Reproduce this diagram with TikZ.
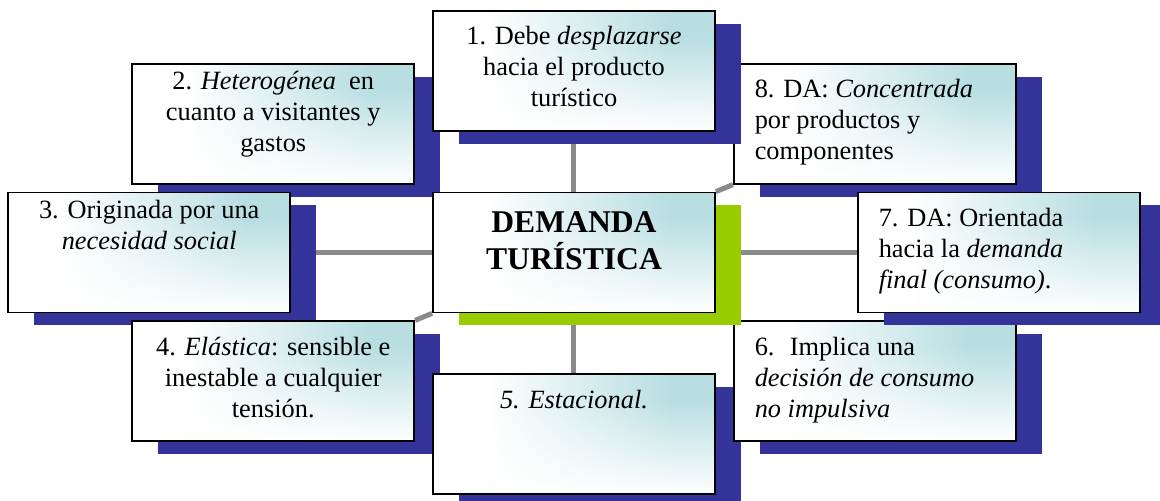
\documentclass[tikz,border=0pt]{standalone}
\usepackage{fontspec}
\setmainfont{Liberation Serif}
\usepackage{tikz}
\usetikzlibrary{positioning, shadows, fadings}
\definecolor{boxteal}{RGB}{184,222,226}
\definecolor{shadowblue}{RGB}{51,51,153}
\definecolor{shadowgreen}{RGB}{153,204,0}
\definecolor{linkgray}{RGB}{138,138,138}
\pgfdeclarelayer{background}
\pgfdeclarelayer{front}
\pgfsetlayers{background,main,front}
\newcommand{\boxtext}[3]{\parbox[c][2.4cm][t]{5.64cm}{#1\rule{0pt}{#2}#3}}

\begin{document}
\begin{tikzpicture}[feature/.style={rectangle,
      draw=black,
      line width=1pt,
      fill=white,
      inner sep=0pt,
      minimum width=5.64cm,
      minimum height=2.4cm,
      font=\fontsize{15}{17.6}\selectfont,
      path picture={
        \fill[boxteal] (path picture bounding box.south west)
          rectangle (path picture bounding box.north east);
        \shade[left color=white, right color=boxteal]
          ([xshift=1.1cm]path picture bounding box.south west)
          rectangle ([xshift=-0.9cm]path picture bounding box.north east);
        \fill[white] (path picture bounding box.south west)
          rectangle ([xshift=1.1cm]path picture bounding box.north west);
        \fill[white, path fading=north] (path picture bounding box.south west)
          rectangle ([yshift=-0.5cm]path picture bounding box.north east);},
      general shadow={fill=#1, shadow xshift=0.52cm, shadow yshift=-0.26cm}},
    feature/.default=shadowblue,
    link/.style={draw=linkgray, line width=0.1cm}]
  \useasboundingbox (-11.48,-4.97) rectangle (11.72,5.05);

  % CENTRE

  \begin{pgfonlayer}{front}
    \node[feature=shadowgreen,
      font=\fontsize{18}{21}\selectfont\bfseries] (demanda) at (0,0) {
      \boxtext{\centering}{0.8cm}{DEMANDA\\TURÍSTICA}
    };
  \end{pgfonlayer}

  % FEATURES

  \node[feature,
    above left=0.14cm and 0.34cm of demanda] (heterogenea) {
    \boxtext{\centering}{0.52cm}{2. \textit{Heterogénea}~ en\\
      cuanto a visitantes y\\ gastos}
  };

  \node[feature,
    left=2.82cm of demanda] (necesidad) {
    \boxtext{\centering}{0.52cm}{3. Originada por una\\
      \textit{necesidad social}}
  };

  \node[feature,
    below left=0.14cm and 0.34cm of demanda] (elastica) {
    \boxtext{\centering}{0.68cm}{4. \textit{Elástica}: sensible e\\
      inestable a cualquier\\ tensión.}
  };

  \node[feature,
    below=1.2cm of demanda] (estacional) {
    \boxtext{\centering}{0.68cm}{\textit{5. Estacional.}}
  };

  \node[feature,
    below right=0.14cm and 0.34cm of demanda] (decision) {
    \boxtext{\raggedright\leftskip=0.42cm}{0.68cm}{6.~ Implica una\\
      \textit{decisión de consumo}\\ \textit{no impulsiva}}
  };

  \node[feature,
    above right=0.14cm and 0.34cm of demanda] (concentrada) {
    \boxtext{\raggedright\leftskip=0.42cm}{0.68cm}{8. DA: \textit{Concentrada}\\
      por productos y\\ componentes}
  };

  \node[feature,
    right=2.82cm of demanda] (orientada) {
    \boxtext{\raggedright\leftskip=0.42cm}{0.68cm}{7. DA: Orientada\\
      hacia la \textit{demanda}\\ \textit{final (consumo)}.}
  };

  \node[feature,
    above=1.2cm of demanda] (desplazarse) {
    \boxtext{\centering}{0.68cm}{1. Debe \textit{desplazarse}\\
      hacia el producto\\ turístico}
  };

  % LINKS

  \begin{pgfonlayer}{background}
    \draw[link] (demanda) -- (desplazarse);
    \draw[link] (demanda.north west) -- (heterogenea.south east);
    \draw[link] (demanda) -- (necesidad);
    \draw[link] (demanda.south west) -- (elastica.north east);
    \draw[link] (demanda) -- (estacional);
    \draw[link] (demanda.south east) -- (decision.north west);
    \draw[link] (demanda) -- (orientada);
    \draw[link] (demanda.north east) -- (concentrada.south west);
  \end{pgfonlayer}

\end{tikzpicture}
\end{document}
